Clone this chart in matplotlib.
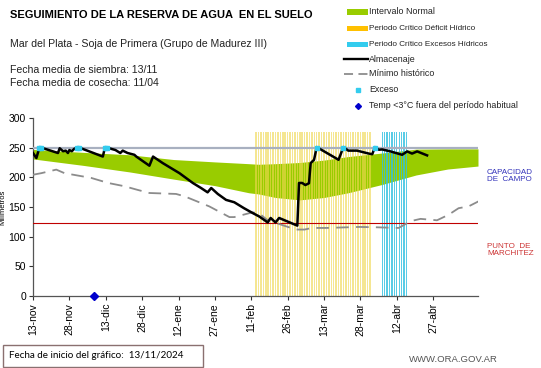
import matplotlib
matplotlib.use("Agg")
import matplotlib.pyplot as plt
import numpy as np
from matplotlib.lines import Line2D
from matplotlib.patches import Rectangle

plt.rcParams['font.family'] = ['Liberation Sans', 'DejaVu Sans']

# ---- data (days since 13-nov-2024) ----
tick_days = [0, 15, 30, 45, 60, 75, 90, 105, 120, 135, 150, 165]
tick_labels = ["13-nov", "28-nov", "13-dic", "28-dic", "12-ene", "27-ene",
               "11-feb", "26-feb", "13-mar", "28-mar", "12-abr", "27-abr"]

band_days = [0, 21, 40, 58, 75, 89, 93, 100, 110, 120, 130, 144, 158, 171, 183.5]
band_upper = [247, 242, 238, 230, 226, 223, 222, 223, 225, 229, 235, 241, 247.5, 248, 248]
band_lower = [231, 220, 209, 197, 186, 174, 172, 166, 162, 166, 174, 188, 204, 214, 219]

alm_days = [0, 1.4, 2.7, 10.3, 11, 12.4, 13.5, 14.4, 15, 16, 17, 18.5, 28.8, 29.7,
            34, 36, 37, 39, 41.8, 42.6, 48, 49.5, 53.5, 60.4, 65.9, 69.3, 72, 73.5,
            76.2, 79.6, 83, 87, 90.5, 93.3, 96.8, 98, 100, 101.5, 109, 109.7, 111,
            112.3, 113.8, 114.5, 115.9, 117, 126, 128, 130, 133.6, 138.5, 139.9,
            141, 142.6, 144, 147.4, 152.2, 154.3, 156.3, 158.4, 162.5]
alm_vals = [241, 232.5, 251, 241, 249, 244, 245, 241, 246, 244, 248, 251, 235, 251,
            246, 241, 245, 241, 238, 235, 219.6, 235, 224, 207, 190.5, 182, 174.7, 182,
            172, 162, 158, 148, 140, 134, 124, 131.5, 124, 131.5, 118.6, 190.5, 190.5,
            187, 190, 224, 229.6, 251, 229.6, 251, 245, 245, 240, 239,
            251, 246.5, 247, 243.7, 238, 243.7, 240, 243.7, 237]

min_days = [0, 3.4, 9.6, 13, 18.5, 24, 31, 37.7, 43, 48, 59, 62.5, 72.7, 81, 83,
            90.5, 93.3, 96.8, 98, 101, 108.4, 112, 115, 121, 134.4, 140, 150.8,
            155.6, 159.8, 166.6, 171.4, 175.5, 179.6, 183.7]
min_vals = [204.4, 207, 213, 207, 203, 199, 190.5, 185, 179, 173.6, 172, 168, 151,
            133, 133, 141, 139, 127.6, 130, 122, 112, 112, 114.7, 114.7, 116.4, 116,
            114.7, 126, 130, 127.6, 137, 148, 151, 159.5]

deficit_days = list(range(92, 140))
exceso_period_days = list(range(144, 155))
exceso_days = [2.5, 3.5, 18, 19, 29.5, 30.5, 117, 128, 141]
exceso_vals = [250, 250, 250, 250, 250, 250, 250, 250, 250]
frost_days = [25]
frost_vals = [0]

capacidad = 250
marchitez = 123
period_top = 276

# ---- figure ----
fig = plt.figure(figsize=(5.41, 3.68), dpi=100)
ax = fig.add_axes([33/541, 1-296/368, (478-33)/541, (296-118)/368])

ax.fill_between(band_days, band_lower, band_upper, color="#99cc00", lw=0, zorder=1)
ax.bar(deficit_days, [period_top]*len(deficit_days), width=0.62, color="#f0d850",
       alpha=0.62, lw=0, zorder=2)
ax.bar(exceso_period_days, [period_top]*len(exceso_period_days), width=0.5,
       color="#30c0e0", alpha=0.8, lw=0, zorder=2)
ax.axhline(capacidad, color="#a8b0c0", lw=1.6, zorder=3)
ax.axhline(marchitez, color="#c00000", lw=0.8, zorder=3)
ax.plot(min_days, min_vals, color="#8c8c8c", lw=1.3, dashes=(7, 4), zorder=4)
ax.plot(alm_days, alm_vals, color="black", lw=1.8, zorder=5)
ax.plot(exceso_days, exceso_vals, ls="none", marker="s", ms=2.6, color="#33ccee",
        zorder=6)
ax.plot(frost_days, frost_vals, ls="none", marker="D", ms=4.5, color="#0000cc",
        zorder=7, clip_on=False)

ax.set_xlim(0, 183.5)
ax.set_ylim(0, 300)
ax.set_yticks(range(0, 301, 50))
ax.set_xticks(tick_days)
ax.set_xticklabels(tick_labels, rotation=90)
ax.tick_params(axis="both", labelsize=7.5, length=3, width=0.8, colors="#333333",
               labelcolor="black", pad=2)
for s in ["top", "right"]:
    ax.spines[s].set_visible(False)
for s in ["left", "bottom"]:
    ax.spines[s].set_color("#555555")
    ax.spines[s].set_linewidth(0.9)
ax.set_ylabel("Milímetros", fontsize=5.5, labelpad=2)

# ---- texts ----
fig.text(10/541, 1-15/368, "SEGUIMIENTO DE LA RESERVA DE AGUA  EN EL SUELO",
         fontsize=8, fontweight="bold", va="center", ha="left")
fig.text(10/541, 1-44/368, "Mar del Plata - Soja de Primera (Grupo de Madurez III)",
         fontsize=7.6, va="center", ha="left", color="#222222")
fig.text(10/541, 1-70/368, "Fecha media de siembra: 13/11",
         fontsize=7.6, va="center", ha="left", color="#222222")
fig.text(10/541, 1-83/368, "Fecha media de cosecha: 11/04",
         fontsize=7.6, va="center", ha="left", color="#222222")

# legend (manual)
leg_y = [12, 28, 44, 59, 74, 90, 106]
leg_txt = ["Intervalo Normal", "Periodo Crítico Déficit Hídrico",
           "Periodo Crítico Excesos Hídricos", "Almacenaje", "Mínimo histórico",
           "Exceso", "Temp <3°C fuera del período habitual"]
x0, x1 = 347/541, 368/541
for i, (yy, t) in enumerate(zip(leg_y, leg_txt)):
    yf = 1 - yy/368
    if i == 0:
        fig.add_artist(Rectangle((x0, yf-2.5/368), x1-x0, 5/368, color="#99cc00", lw=0))
    elif i == 1:
        fig.add_artist(Rectangle((x0, yf-2.5/368), x1-x0, 5/368, color="#ffc000", lw=0))
    elif i == 2:
        fig.add_artist(Rectangle((x0, yf-2.5/368), x1-x0, 5/368, color="#33ccee", lw=0))
    elif i == 3:
        fig.add_artist(Line2D([x0-3/541, x1], [yf, yf], color="black", lw=1.7))
    elif i == 4:
        fig.add_artist(Line2D([x0-3/541, x1], [yf, yf], color="#8c8c8c", lw=1.3,
                              dashes=(5, 3)))
    elif i == 5:
        fig.add_artist(Line2D([358/541], [yf], ls="none", marker="s", ms=2.5,
                              color="#33ccee"))
    elif i == 6:
        fig.add_artist(Line2D([358/541], [yf], ls="none", marker="D", ms=3,
                              color="#0000cc"))
    fs = 5.85 if i in (1, 2) else 6.4
    fig.text(369/541, yf, t, fontsize=fs, va="center", ha="left", color="#222222")

fig.text(487/541, 1-176/368, "CAPACIDAD\nDE  CAMPO", fontsize=5.8, color="#3333bb",
         va="center", ha="left", linespacing=1.1)
fig.text(487/541, 1-250/368, "PUNTO  DE\nMARCHITEZ", fontsize=5.8, color="#cc3333",
         va="center", ha="left", linespacing=1.1)

fig.add_artist(Rectangle((3/541, 1-367/368), 200/541, 22/368, fill=False,
                         edgecolor="#8a7070", lw=1.0))
fig.text(9/541, 1-356/368, "Fecha de inicio del gráfico:  13/11/2024", fontsize=7.1,
         family=["Lato", "DejaVu Sans"], va="center", ha="left", color="black")
fig.text(498/541, 1-359/368, "WWW.ORA.GOV.AR", fontsize=6.8, color="#555555",
         va="center", ha="right")

fig.savefig("out.png", dpi=100)
